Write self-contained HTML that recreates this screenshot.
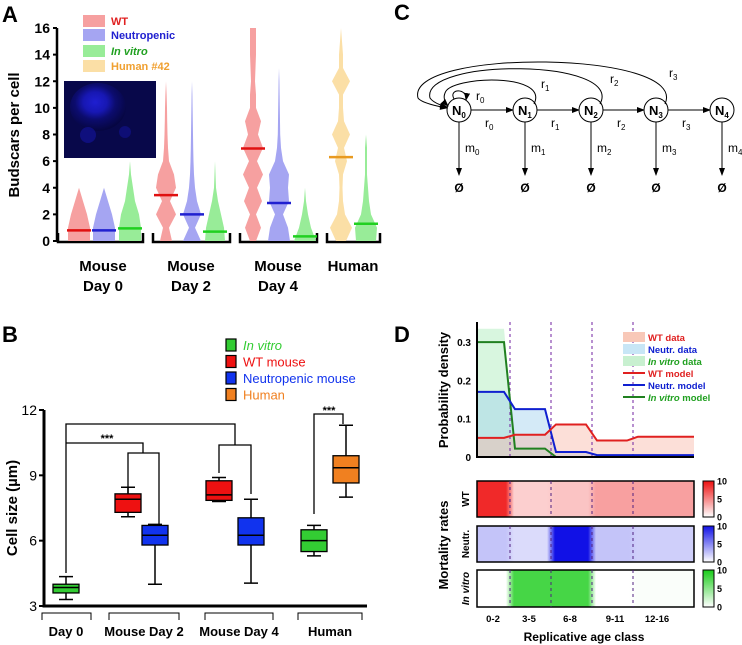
<!DOCTYPE html>
<html><head><meta charset="utf-8"><style>
html,body{margin:0;padding:0;background:#fff;}
svg{display:block;font-family:"Liberation Sans",Arial,sans-serif;}
</style></head><body>
<svg id="fig" width="742" height="645" viewBox="0 0 742 645" xmlns="http://www.w3.org/2000/svg">
<defs>
<radialGradient id="cellg" cx="0.45" cy="0.4" r="0.6"><stop offset="0" stop-color="#2020d8"/><stop offset="0.35" stop-color="#1818b8"/><stop offset="0.6" stop-color="#0c0c70"/><stop offset="1" stop-color="#060640"/></radialGradient>
</defs>
<g id="pA"></g>
<g id="pB"></g>
<g id="pC"></g>
<g id="pD"></g>
</svg>
<script>
// ---------- Panel A data ----------
const aGroups = ["Mouse|Day 0","Mouse|Day 2","Mouse|Day 4","Human"];
const aTicks = [0,2,4,6,8,10,12,14,16];
const aViolinGroup = [0,0,0,1,1,1,2,2,2,3,3];
const aViolinType = ["wt","ne","iv","wt","ne","iv","wt","ne","iv","hu","iv"];
const aMedians = [0.8,0.8,0.95,3.45,2.0,0.7,6.95,2.85,0.35,6.3,1.3];
const aWidths = [
 [11,11,8,4,0,0,0,0,0,0,0,0,0,0,0,0,0],
 [11,11,8,4,0,0,0,0,0,0,0,0,0,0,0,0,0],
 [11,11,9,5,3,1,0,0,0,0,0,0,0,0,0,0,0],
 [6,3,10,4,10,8,3,2,1.5,1.2,1,0.6,0,0,0,0,0],
 [9,3,9,5,3,2,1.5,1.2,1,0.8,0.6,0.4,0,0,0,0,0],
 [10,9,6,3,1,0.5,0,0,0,0,0,0,0,0,0,0,0],
 [3,8,3,9,4,10,4,10,5,8,3,3,2,2.5,3,3,3],
 [11,9,4,10,9,10,4,2,1.2,1,0.8,0.6,0.4,0,0,0,0],
 [11,6,3,1,0,0,0,0,0,0,0,0,0,0,0,0,0],
 [5,11,4,2,1.5,2,6,3,9,3,2,2,9,2,2,1,0],
 [10,11,5,3,2,1,1,1,0,0,0,0,0,0,0,0,0]
];
// ---------- Panel B data ----------
const bGroups = ["Day 0","Mouse Day 2","Mouse Day 4","Human"];
const bTicks = [3,6,9,12];
const bBoxType = ["iv","wt","ne","wt","ne","iv","hu"];
const bWhiskLow = [3.3,7.1,4.0,7.8,4.05,5.3,8.0];
const bQ1 = [3.6,7.3,5.8,7.85,5.8,5.5,8.65];
const bMedian = [3.85,7.9,6.25,8.1,6.25,6.0,9.35];
const bQ3 = [4.0,8.15,6.7,8.75,7.05,6.5,9.9];
const bWhiskHigh = [4.35,8.45,6.75,8.9,7.9,6.7,11.3];
// ---------- Panel D data ----------
const dClasses = ["0-2","3-5","6-8","9-11","12-16"];
const dTicks = [0,0.1,0.2,0.3];
const wtModel = [0.05,0.058,0.085,0.043,0.053];
const neModel = [0.17,0.125,0.013,0.005,0.005];
const ivModel = [0.30,0.022,0.0,0.0,0.0];
const wtData = [0.05,0.058,0.085,0.043,0.053];
const neData = [0.17,0.125,0.013,0.005,0.005];
const ivData = [0.335,0.022,0.0,0.0,0.0];
const wtMort = [9,2,2.5,4,4];
const neMort = [2.5,1.5,10,2.5,2];
const ivMort = [0,8,8,0,0.2];
const mortTicks = [0,5,10];

const NS="http://www.w3.org/2000/svg";
function mk(parent,tag,attrs,text){const e=document.createElementNS(NS,tag);for(const k in attrs)e.setAttribute(k,attrs[k]);if(text!==undefined)e.textContent=text;parent.appendChild(e);return e;}

// ================= PANEL A =================
(function(){
const g=document.getElementById('pA');
const yA=v=>241-v*(213/16);
const xCenters=[[79,104,130],[166,192,215],[253,279,305],[341,366]];
const fills={wt:"#f6a0a0",ne:"#a5a5f2",iv:"#98ec98",hu:"#fbdfa6"};
const meds={wt:"#e01010",ne:"#2020d0",iv:"#20d020",hu:"#e89a20"};
let t=mk(g,'text',{x:2,y:22,'font-size':22,'font-weight':'bold'},'A');

let im=mk(g,'g',{});
mk(im,'rect',{x:64,y:81,width:92,height:77,fill:'#08084a'});
mk(im,'ellipse',{cx:98,cy:107,rx:28,ry:24,fill:'url(#cellg)',opacity:0.95});
mk(im,'circle',{cx:88,cy:135,r:8,fill:'#1414a0',opacity:0.6});
mk(im,'circle',{cx:125,cy:132,r:6,fill:'#1414a0',opacity:0.5});
let ax=mk(g,'line',{x1:57,y1:28,x2:57,y2:242,stroke:'#000','stroke-width':2.5});

aTicks.forEach(v=>{
 let l=mk(g,'line',{x1:53,y1:yA(v),x2:57,y2:yA(v),stroke:'#000','stroke-width':2});
 
 let tt=mk(g,'text',{x:50,y:yA(v)+5,'font-size':14,'font-weight':'bold','text-anchor':'end'},String(v));
 
});
let yl=mk(g,'text',{x:0,y:0,'font-size':15,'font-weight':'bold','text-anchor':'middle',transform:'translate(19,135) rotate(-90)'},'Budscars per cell');

const brk=[[57,143],[152,230],[239,317],[326,380]];
brk.forEach((b,i)=>{
 let p=mk(g,'path',{d:`M${b[0]+1},233 V242 H${b[1]} V233`,fill:'none',stroke:'#000','stroke-width':2.5});
 
 const cx=[103,191,278,353][i];
 aGroups[i].split('|').forEach((s,j)=>{
  let tt=mk(g,'text',{x:cx,y:271+j*20,'font-size':15,'font-weight':'bold','text-anchor':'middle'},s);
  
 });
});
let cnt=[0,0,0,0];
aWidths.forEach((w,i)=>{
 const gi=aViolinGroup[i];const cx=xCenters[gi][cnt[gi]++];const ty=aViolinType[i];
 let last=w.length-1; while(last>0&&w[last]===0&&w[last-1]===0) last--;
 let right=[],left=[];
 w.slice(0,last+1).forEach((hw,v)=>{right.push(`${cx+hw},${yA(v)}`);left.unshift(`${cx-hw},${yA(v)}`);});
 let pg=mk(g,'polygon',{points:right.concat(left).join(' '),fill:fills[ty],stroke:'none'});
 
 let md=mk(g,'line',{x1:cx-12,x2:cx+12,y1:yA(aMedians[i]),y2:yA(aMedians[i]),stroke:meds[ty],'stroke-width':2.5});
 
});
const lg=[["WT","wt","#e02020",false],["Neutropenic","ne","#2020d0",false],["In vitro","iv","#20a020",true],["Human #42","hu","#f0a030",false]];
const lgy=[21,35,51,66];
lg.forEach((L,i)=>{
 let r=mk(g,'rect',{x:83,y:lgy[i]-6,width:22,height:12,fill:fills[L[1]]});
 
 let tt=mk(g,'text',{x:111,y:lgy[i]+4,'font-size':11,'font-weight':'bold',fill:L[2],'font-style':L[3]?'italic':'normal'},L[0]);
 
});
})();

// ================= PANEL B =================
(function(){
const g=document.getElementById('pB');
const yB=v=>606-(v-3)*(196/9);
const xs=[66,128,155,219,251,314,346];
const fills={iv:"#33cc33",wt:"#ee1111",ne:"#1133ee",hu:"#f08020"};
let t=mk(g,'text',{x:2,y:342,'font-size':22,'font-weight':'bold'},'B');

let ax=mk(g,'path',{d:'M44,410 V606 H367',fill:'none',stroke:'#000','stroke-width':3});

bTicks.forEach(v=>{
 let l=mk(g,'line',{x1:39,x2:44,y1:yB(v),y2:yB(v),stroke:'#000','stroke-width':2});
 
 let tt=mk(g,'text',{x:37,y:yB(v)+5,'font-size':14,'text-anchor':'end'},String(v));
 
});
let yl=mk(g,'text',{x:0,y:0,'font-size':15,'font-weight':'bold','text-anchor':'middle',transform:'translate(17,508) rotate(-90)'},'Cell size (µm)');

const brk=[[42,91,66],[109,179,144],[205,273,239],[298,362,330]];
brk.forEach((b,i)=>{
 let p=mk(g,'path',{d:`M${b[0]},620 V613 H${b[1]} V620`,fill:'none',stroke:'#000','stroke-width':1});
 
 let tt=mk(g,'text',{x:b[2],y:636,'font-size':13,'font-weight':'bold','text-anchor':'middle'},bGroups[i]);
 
});
const sig=['M66,573 V424 H235 V445','M66,443 H143 V453','M128,493 V453 H159 V526','M219,473 V445 H251 V494','M314,514 V414 H343 V424'];
sig.forEach(d=>{let p=mk(g,'path',{d:d,fill:'none',stroke:'#000','stroke-width':1.3});});
[[107,442],[329,414]].forEach(s=>{let tt=mk(g,'text',{x:s[0],y:s[1],'font-size':11,'font-weight':'bold','text-anchor':'middle'},'***');});
xs.forEach((cx,i)=>{
 const ty=bBoxType[i];
 let w=mk(g,'path',{d:`M${cx},${yB(bWhiskLow[i])} V${yB(bWhiskHigh[i])} M${cx-7},${yB(bWhiskLow[i])} H${cx+7} M${cx-7},${yB(bWhiskHigh[i])} H${cx+7}`,stroke:'#000','stroke-width':1.5,fill:'none'});
 
 let r=mk(g,'rect',{x:cx-13,y:yB(bQ3[i]),width:26,height:yB(bQ1[i])-yB(bQ3[i]),fill:fills[ty],stroke:'#000','stroke-width':1.3});
 
 let m=mk(g,'line',{x1:cx-13,x2:cx+13,y1:yB(bMedian[i]),y2:yB(bMedian[i]),stroke:'#000','stroke-width':1.5});
 
});
const lg=[["In vitro","iv","#33cc33",true],["WT mouse","wt","#ee1111",false],["Neutropenic mouse","ne","#1133ee",false],["Human","hu","#f08020",false]];
lg.forEach((L,i)=>{
 const y=345+i*16.5;
 let r=mk(g,'rect',{x:226,y:y-6,width:10,height:12,fill:fills[L[1]],stroke:'#000','stroke-width':1.2});
 
 let tt=mk(g,'text',{x:243,y:y+5,'font-size':13,fill:L[2],'font-style':L[3]?'italic':'normal'},L[0]);
 
});
})();

// ================= PANEL C =================
(function(){
const g=document.getElementById('pC');
let t=mk(g,'text',{x:394,y:20,'font-size':22,'font-weight':'bold'},'C');

const nx=[459,525,591,656,722],ny=110,R=12;
mk(g,'defs',{}).innerHTML='<marker id="ah" markerWidth="8" markerHeight="6" refX="7" refY="3" orient="auto"><path d="M0,0 L8,3 L0,6 Z" fill="#000"/></marker>';
nx.forEach((x,i)=>{
 let c=mk(g,'circle',{cx:x,cy:ny,r:R,fill:'#fff',stroke:'#000','stroke-width':1});
 
 let tt=mk(g,'text',{x:x-7,y:ny+5,'font-size':13,'font-weight':'bold'},'N');
 mk(tt,'tspan',{'font-size':8,dy:3},String(i));
 
 let d=mk(g,'line',{x1:x,y1:ny+R,x2:x,y2:175,stroke:'#000','stroke-width':1,'marker-end':'url(#ah)'});
 
 let m=mk(g,'text',{x:x+6,y:152,'font-size':12},'m');mk(m,'tspan',{'font-size':8,dy:3},String(i));
 
 let o=mk(g,'text',{x:x,y:192,'font-size':12,'font-weight':'bold','text-anchor':'middle'},'Ø');
 
 if(i<4){
  let a=mk(g,'line',{x1:x+R,y1:ny,x2:nx[i+1]-R,y2:ny,stroke:'#000','stroke-width':1,'marker-end':'url(#ah)'});
  
  let r=mk(g,'text',{x:x+26,y:127,'font-size':12},'r');mk(r,'tspan',{'font-size':8,dy:3},String(i));
  
 }
});
const arcs=['M454,99 C448,88 468,88 466,100','M534,104 C550,72 450,76 445,93 C442,100 448,106 448,106','M600,104 C625,58 420,58 430,98 C434,104 447,107 447,107','M665,104 C690,50 405,48 418,98 C422,104 447,108 447,108'];
arcs.forEach(d=>{let p=mk(g,'path',{d:d,fill:'none',stroke:'#000','stroke-width':1,'marker-end':'url(#ah)'});});
[[476,100,0],[541,88,1],[610,83,2],[669,77,3]].forEach(s=>{let r=mk(g,'text',{x:s[0],y:s[1],'font-size':12},'r');mk(r,'tspan',{'font-size':8,dy:3},String(s[2]));});
})();

// ================= PANEL D =================
(function(){
const g=document.getElementById('pD');
const edges=[477,510,551,592,633,694];
const yD=v=>457-v*383;
let t=mk(g,'text',{x:394,y:342,'font-size':22,'font-weight':'bold'},'D');

function stepPts(vals){
 let pts=[];
 vals.forEach((v,i)=>{
  const a=i===0?edges[0]:edges[i]+5, b=i===vals.length-1?edges[5]:edges[i+1]-6;
  pts.push([a,yD(v)],[b,yD(v)]);
 });
 return pts;
}
function area(vals,fill,name){
 const p=stepPts(vals);
 let d='M'+p.map(q=>q.join(',')).join(' L')+` L${edges[5]},457 L${edges[0]},457 Z`;
 let e=mk(g,'path',{d:d,fill:fill,'fill-opacity':0.45,stroke:'none'});
 
}
function line(vals,col,name){
 const p=stepPts(vals);
 let e=mk(g,'polyline',{points:p.map(q=>q.join(',')).join(' '),fill:'none',stroke:col,'stroke-width':2});
 
}
area(ivData,'#a8ecb8','in-vitro-data-area');
area(neData,'#9fd0ee','neutr-data-area');
area(wtData,'#f8b8a8','wt-data-area');
edges.slice(1,5).forEach(x=>{let l=mk(g,'line',{x1:x,x2:x,y1:322,y2:457,stroke:'#7020a0','stroke-width':1,'stroke-dasharray':'3,3'});});
line(ivModel,'#208020','in-vitro-model-line');
line(neModel,'#1020d0','neutr-model-line');
line(wtModel,'#e02020','wt-model-line');
let ax=mk(g,'path',{d:'M477,322 V457 H694',fill:'none',stroke:'#000','stroke-width':2});

dTicks.forEach(v=>{let tt=mk(g,'text',{x:471,y:yD(v)+4,'font-size':10,'font-weight':'bold','text-anchor':'end'},v===0?'0':String(v));});
let yl=mk(g,'text',{x:0,y:0,'font-size':13,'font-weight':'bold','text-anchor':'middle',transform:'translate(448,390) rotate(-90)'},'Probability density');

const lg=[["WT data","#f8c8b8","#e02020",0,"rect"],["Neutr. data","#c8e6f6","#1020d0",0,"rect"],["In vitro","#c8f0d0","#20a020",1,"rect"," data"],["WT model","#e02020","#e02020",0,"line"],["Neutr. model","#1020d0","#1020d0",0,"line"],["In vitro","#208020","#20a020",1,"line"," model"]];
lg.forEach((L,i)=>{
 const y=337+i*12;
 let s;
 if(L[4]==='rect') s=mk(g,'rect',{x:623,y:y-5,width:22,height:10,fill:L[1]});
 else s=mk(g,'line',{x1:623,x2:645,y1:y,y2:y,stroke:L[1],'stroke-width':2});
 
 let tt=mk(g,'text',{x:648,y:y+4,'font-size':9.5,'font-weight':'bold',fill:L[2],'font-style':L[3]?'italic':'normal'},L[0]);
 if(L[5]){mk(tt,'tspan',{'font-style':'normal'},L[5]);}
 
});
const defs=mk(g,'defs',{});
const rows=[[wtMort,[238,17,17],481,517,'WT',false,'wt'],[neMort,[17,17,230],526,562,'Neutr.',false,'neutr'],[ivMort,[24,204,24],570,607,'In vitro',true,'invitro']];
const cmix=(c,v)=>{const f=Math.min(1,v/10);return `rgb(${Math.round(255+(c[0]-255)*f)},${Math.round(255+(c[1]-255)*f)},${Math.round(255+(c[2]-255)*f)})`;};
rows.forEach((R,ri)=>{
 const gid='hg'+ri;
 const lgd=mk(defs,'linearGradient',{id:gid,x1:0,x2:1,y1:0,y2:0});
 const W=edges[5]-edges[0];
 R[0].forEach((v,i)=>{
  const a=(i===0?edges[0]:edges[i]+4)-edges[0], b=(i===4?edges[5]:edges[i+1]-4)-edges[0];
  mk(lgd,'stop',{offset:(a/W).toFixed(4),'stop-color':cmix(R[1],v)});
  mk(lgd,'stop',{offset:(b/W).toFixed(4),'stop-color':cmix(R[1],v)});
 });
 let r=mk(g,'rect',{x:477,y:R[2],width:217,height:R[3]-R[2],fill:`url(#${gid})`,stroke:'#000','stroke-width':1.5});
 
 edges.slice(1,5).forEach(x=>{let l=mk(g,'line',{x1:x,x2:x,y1:R[2],y2:R[3],stroke:'#502080','stroke-width':1,'stroke-dasharray':'3,3'});});
 let tt=mk(g,'text',{x:0,y:0,'font-size':10,'font-weight':'bold','font-style':R[5]?'italic':'normal','text-anchor':'middle',transform:`translate(469,${(R[2]+R[3])/2}) rotate(-90)`},R[4]);
 
 const cg=mk(defs,'linearGradient',{id:'cb'+ri,x1:0,x2:0,y1:1,y2:0});
 mk(cg,'stop',{offset:0,'stop-color':'#fff'});mk(cg,'stop',{offset:1,'stop-color':cmix(R[1],10)});
 let cb=mk(g,'rect',{x:703,y:R[2],width:11,height:R[3]-R[2],fill:`url(#cb${ri})`,stroke:'#000','stroke-width':1});
 
 mortTicks.forEach(v=>{const y=R[3]-(R[3]-R[2])*v/10;let l=mk(g,'text',{x:717,y:y+3.5,'font-size':9,'font-weight':'bold'},String(v));});
});
const lx=[493,529,570,615,657];
dClasses.forEach((c,i)=>{let tt=mk(g,'text',{x:lx[i],y:622,'font-size':9.5,'font-weight':'bold','text-anchor':'middle'},c);});
let xl=mk(g,'text',{x:584,y:641,'font-size':12,'font-weight':'bold','text-anchor':'middle'},'Replicative age class');

let ml=mk(g,'text',{x:0,y:0,'font-size':13,'font-weight':'bold','text-anchor':'middle',transform:'translate(448,545) rotate(-90)'},'Mortality rates');

})();
</script>
</body></html>
